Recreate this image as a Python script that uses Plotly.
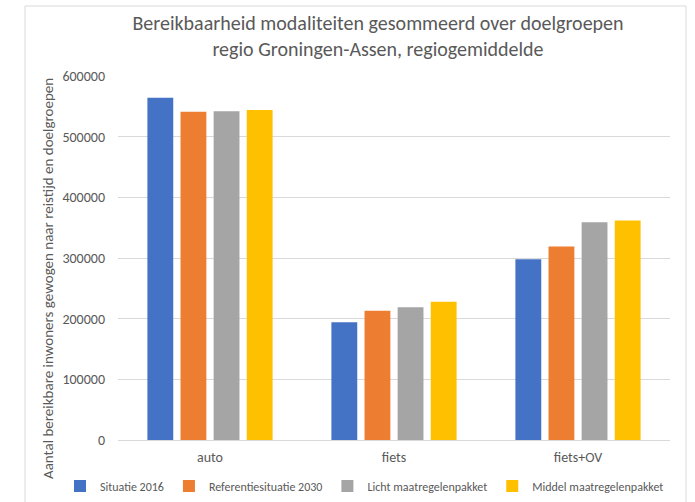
import plotly.graph_objects as go

categories = ["auto", "fiets", "fiets+OV"]
series_names = ["Situatie 2016", "Referentiesituatie 2030", "Licht maatregelenpakket", "Middel maatregelenpakket"]
situatie_2016 = [564000, 194000, 298000]
referentie_2030 = [541000, 213000, 319000]
licht_pakket = [542000, 219000, 359000]
middel_pakket = [544000, 228000, 362000]
colors = ["#4472C4", "#ED7D31", "#A5A5A5", "#FFC000"]
y_ticks = [0, 100000, 200000, 300000, 400000, 500000, 600000]

FONT = "Calibri, Carlito, 'Liberation Sans Narrow', Lato, 'Open Sans', sans-serif"
GREY = "#595959"

fig = go.Figure()
for name, vals, col in zip(series_names, [situatie_2016, referentie_2030, licht_pakket, middel_pakket], colors):
    fig.add_trace(go.Bar(name=name, x=categories, y=vals, marker=dict(color=col, line=dict(width=0))))

W, H = 695, 502
L, R, T, B = 118, 25, 76, 62
pw, ph = W - L - R, H - T - B

def px(xp):
    return (xp - L) / pw

def py(yp):
    return (H - B - yp) / ph

fig.update_layout(
    width=W, height=H,
    margin=dict(l=L, r=R, t=T, b=B, autoexpand=False),
    paper_bgcolor="white", plot_bgcolor="white",
    font=dict(family=FONT, color=GREY, size=13),
    barmode="group", bargap=0.28, bargroupgap=0.22,
    title=dict(
        text="Bereikbaarheid modaliteiten gesommeerd over doelgroepen<br>regio Groningen-Assen, regiogemiddelde",
        font=dict(family=FONT, size=20, color=GREY),
        x=px(378), xref="paper", xanchor="center",
        y=1 - 30 / H, yref="container", yanchor="middle",
    ),
    xaxis=dict(
        showgrid=False, showline=True, linecolor="#D9D9D9", linewidth=1,
        ticks="", tickfont=dict(size=14, color=GREY), ticklabelstandoff=4,
    ),
    yaxis=dict(
        range=[0, 600000], tickvals=y_ticks, ticktext=[str(v) for v in y_ticks],
        showgrid=True, gridcolor="#D9D9D9", gridwidth=1, zeroline=False,
        showline=False, ticks="", tickfont=dict(size=14, color=GREY), ticklabelstandoff=12,
    ),
    legend=dict(
        orientation="h", xref="paper", yref="paper",
        x=px(60), xanchor="left", y=py(486), yanchor="middle",
        font=dict(size=12, color=GREY), itemwidth=30, traceorder="normal",
        bgcolor="rgba(0,0,0,0)", tracegroupgap=0,
    ),
    annotations=[dict(
        text="Aantal bereikbare inwoners gewogen naar reistijd en doelgroepen",
        textangle=-90, xref="paper", yref="paper", x=px(48), y=py(279),
        showarrow=False, font=dict(family=FONT, size=15, color=GREY),
        xanchor="center", yanchor="middle",
    )],
    shapes=[dict(
        type="rect", xref="paper", yref="paper",
        x0=px(25), x1=px(686), y0=py(515), y1=py(6),
        line=dict(color="#D9D9D9", width=1), fillcolor="rgba(0,0,0,0)", layer="below",
    )],
)

fig.write_html("out.html", config={"displayModeBar": False},
               post_script="document.body.style.margin='0';document.body.style.padding='0';")
